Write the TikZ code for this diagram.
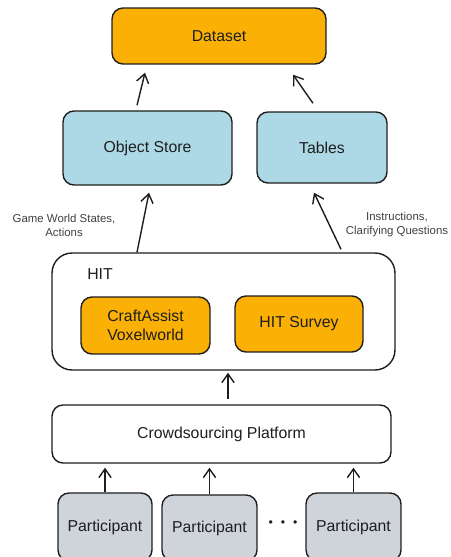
\documentclass[tikz,border=0pt]{standalone}
\usepackage{fontspec}
\setmainfont{Liberation Sans}
\usetikzlibrary{arrows.meta}
\definecolor{boxorange}{HTML}{FAB005}
\definecolor{boxblue}{HTML}{ADD8E6}
\definecolor{boxgrey}{HTML}{CED4DA}
\definecolor{inkdark}{HTML}{1E1E1E}
\begin{document}
\begin{tikzpicture}[x=0.02cm,y=-0.02cm,
  box/.style={draw=inkdark,line width=0.8pt,rounded corners=0.22cm,align=center,
    text=inkdark,font=\fontsize{9}{11}\selectfont,inner sep=2pt},
  arr/.style={draw=inkdark,line width=0.8pt,-{Straight Barb[length=5pt,width=7pt]}},
  note/.style={align=center,text=inkdark!85,font=\fontsize{6.5}{8}\selectfont}]
\useasboundingbox (0,0) rectangle (450,557);
\clip (0,0) rectangle (450,557);
\node[box,fill=boxorange,minimum width=4.28cm,minimum height=1.12cm] (dataset) at (219,36) {Dataset};
\node[box,fill=boxblue,minimum width=3.38cm,minimum height=1.48cm] (objstore) at (147.5,148) {Object Store};
\node[box,fill=boxblue,minimum width=2.6cm,minimum height=1.42cm] (tables) at (322,147.5) {Tables};
\node[box,fill=white,rounded corners=0.4cm,minimum width=6.86cm,minimum height=2.34cm] (hit) at (223.5,311.5) {};
\node[text=inkdark,font=\fontsize{9}{11}\selectfont] (hitlabel) at (100,274) {HIT};
\node[box,fill=boxorange,minimum width=2.58cm,minimum height=1.14cm] (craft) at (145.5,325.5) {CraftAssist\\Voxelworld};
\node[box,fill=boxorange,minimum width=2.56cm,minimum height=1.12cm] (survey) at (299,324) {HIT Survey};
\node[box,fill=white,minimum width=6.78cm,minimum height=1.16cm] (crowd) at (221.5,434) {Crowdsourcing Platform};
\node[box,fill=boxgrey,minimum width=1.88cm,minimum height=1.36cm] (p1) at (105,527) {Participant};
\node[box,fill=boxgrey,minimum width=1.9cm,minimum height=1.32cm] (p2) at (209.5,528) {Participant};
\node[box,fill=boxgrey,minimum width=1.9cm,minimum height=1.36cm] (p3) at (353.5,527) {Participant};
\node[text=inkdark,font=\fontsize{7}{8}\selectfont] (dots) at (283,524) {\textbullet\hspace{4.5pt}\textbullet\hspace{4.5pt}\textbullet};
\node[note] (gamelabel) at (64,225) {Game World States,\\Actions};
\node[note] (instrlabel) at (397,225) {Instructions,\\Clarifying Questions};
\draw[arr] ([shift={(-10.5,-5)}]objstore.north) -- ([shift={(-74,8)}]dataset.south);
\draw[arr] ([shift={(-9,-8)}]tables.north) -- ([shift={(74,10)}]dataset.south);
\draw[arr] ([shift={(-86.5,0)}]hit.north) -- ([shift={(1.5,7)}]objstore.south);
\draw[arr] ([shift={(117.5,-3)}]hit.north) -- ([shift={(-8,9)}]tables.south);
\draw[arr] ([shift={(6.5,-5)}]crowd.north) -- ([shift={(4.5,2)}]hit.south);
\draw[arr] (p1.north) -- ([yshift=-0.08cm]p1.north |- crowd.south);
\draw[arr] (p2.north) -- ([yshift=-0.08cm]p2.north |- crowd.south);
\draw[arr] (p3.north) -- ([yshift=-0.08cm]p3.north |- crowd.south);
\end{tikzpicture}
\end{document}
